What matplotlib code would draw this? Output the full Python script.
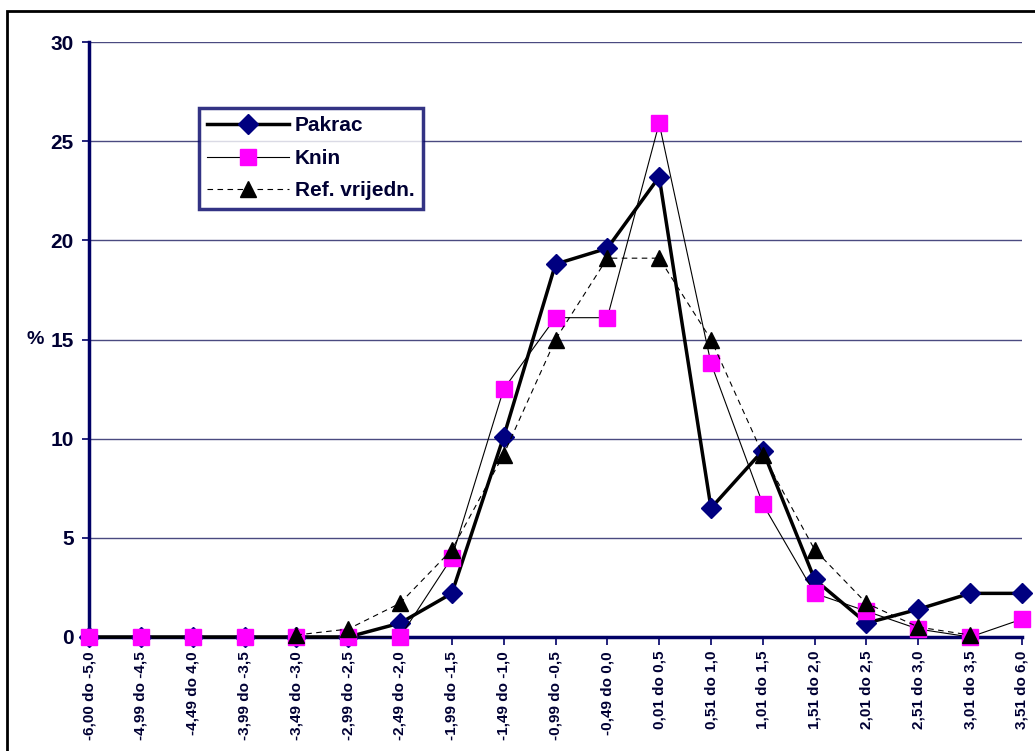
import numpy as np
import matplotlib
matplotlib.use("Agg")
import matplotlib.pyplot as plt
from matplotlib.patches import Rectangle

categories = ["-6,00 do -5,0", "-4,99 do -4,5", "-4,49 do 4,0", "-3,99 do -3,5",
              "-3,49 do -3,0", "-2,99 do -2,5", "-2,49 do -2,0", "-1,99 do -1,5",
              "-1,49 do -1,0", "-0,99 do -0,5", "-0,49 do 0,0", "0,01 do 0,5",
              "0,51 do 1,0", "1,01 do 1,5", "1,51 do 2,0", "2,01 do 2,5",
              "2,51 do 3,0", "3,01 do 3,5", "3,51 do 6,0"]
pakrac = [0, 0, 0, 0, 0, 0, 0.7, 2.2, 10.1, 18.8, 19.6, 23.2, 6.5, 9.4, 2.9, 0.7, 1.4, 2.2, 2.2]
knin = [0, 0, 0, 0, 0, 0, 0, 4.0, 12.5, 16.1, 16.1, 25.9, 13.8, 6.7, 2.2, 1.3, 0.4, 0.0, 0.9]
ref = [np.nan, np.nan, np.nan, np.nan, 0.1, 0.4, 1.7, 4.4, 9.2, 15.0, 19.1, 19.1, 15.0, 9.2, 4.4, 1.7, 0.5, 0.1, np.nan]
yticks = [0, 5, 10, 15, 20, 25, 30]

plt.rcParams['font.family'] = ['Liberation Sans', 'DejaVu Sans']
plt.rcParams['font.weight'] = 'bold'
txt = '#000033'
navy = '#000066'

fig = plt.figure(figsize=(10.35, 7.51), dpi=100)
fig.patches.append(Rectangle((7/1035, -0.05), 1.1, 1 - 11/751 + 0.05, transform=fig.transFigure,
                             fill=False, edgecolor='black', linewidth=2))
ax = fig.add_axes([89/1035, 1 - 637/751, (1022 - 89)/1035, (637 - 42)/751])
x = np.arange(len(categories))

ax.plot(x, pakrac, color='black', linewidth=2.5, marker='D', markersize=10.5,
        markerfacecolor='#000080', markeredgecolor='#000080', label='Pakrac', zorder=3, clip_on=False)
ax.plot(x, knin, color='black', linewidth=0.8, marker='s', markersize=11,
        markerfacecolor='#FF00FF', markeredgecolor='#FF00FF', label='Knin', zorder=4, clip_on=False)
ax.plot(x, ref, color='black', linewidth=0.8, linestyle=(0, (5, 4)), marker='^', markersize=11,
        markerfacecolor='black', markeredgecolor='black', label='Ref. vrijedn.', zorder=5, clip_on=False)

ax.set_xlim(0, len(categories) - 1)
ax.set_ylim(0, 30)
ax.set_yticks(yticks)
ax.set_yticklabels([str(v) for v in yticks], fontsize=15, fontweight='bold', color=txt)
ax.set_xticks(x)
ax.set_xticklabels(categories, rotation=90, fontsize=11, fontweight='bold', color=txt)
ax.tick_params(axis='y', direction='out', length=5, width=1.2, color=navy, pad=6)
ax.tick_params(axis='x', direction='out', length=6, width=1.2, color=navy, pad=4)
ax.grid(axis='y', color='#4a4a80', linewidth=1)
ax.set_axisbelow(True)
for side in ['top', 'right']:
    ax.spines[side].set_visible(False)
ax.spines['left'].set_color(navy)
ax.spines['left'].set_linewidth(2.5)
ax.spines['bottom'].set_color(navy)
ax.spines['bottom'].set_linewidth(2.5)
ax.spines['left'].set_zorder(2.5)
ax.spines['bottom'].set_zorder(2.5)
ax.set_ylabel('%', rotation=0, fontsize=14, fontweight='bold', color=txt, va='center', ha='left', labelpad=2)
ax.yaxis.set_label_coords(-0.0665, 0.5)

leg = ax.legend(loc='upper left', bbox_to_anchor=(0.118, 0.889), fontsize=15, frameon=True,
                fancybox=False, edgecolor=navy, handlelength=3.9, borderpad=0.4,
                labelspacing=0.65, handletextpad=0.3, borderaxespad=0)
leg.get_frame().set_linewidth(2.5)
leg.set_zorder(10)
for t in leg.get_texts():
    t.set_color(txt)
    t.set_fontweight('bold')

fig.savefig('out.png', dpi=100)
